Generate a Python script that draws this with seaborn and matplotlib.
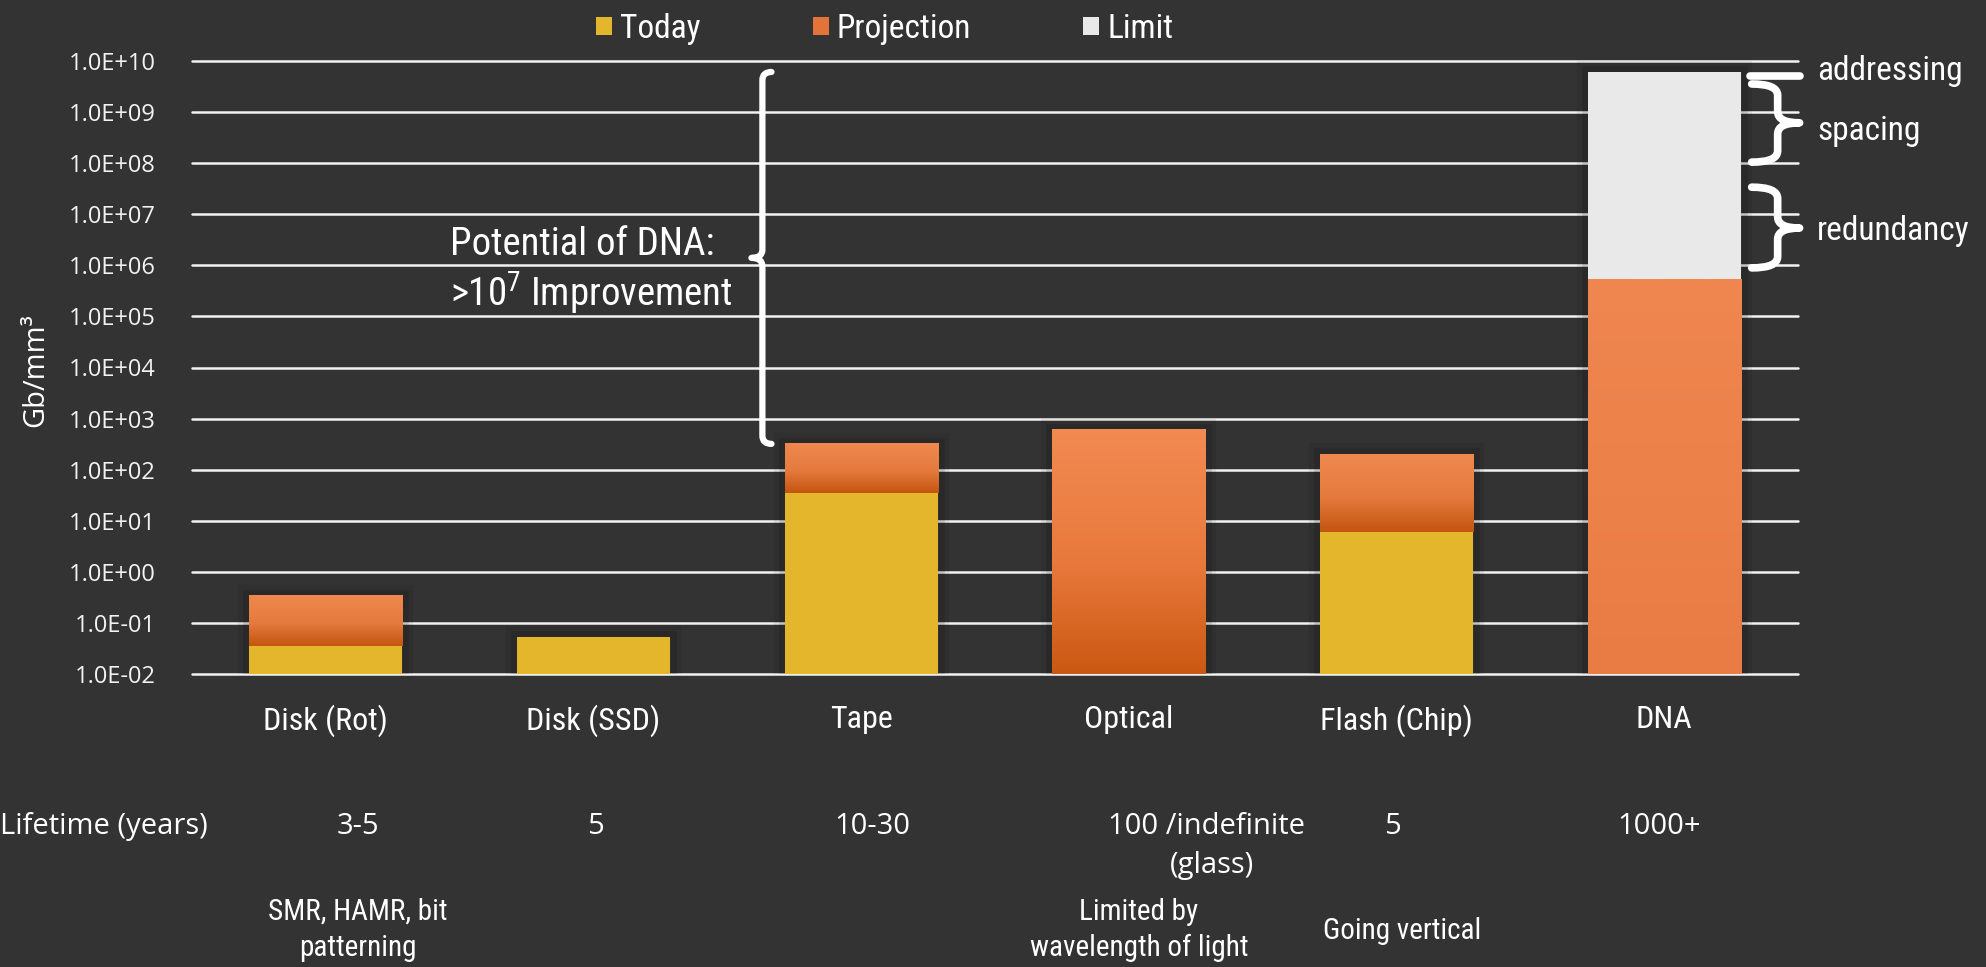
import numpy as np
import pandas as pd
import matplotlib
matplotlib.use("Agg")
import matplotlib.pyplot as plt
import seaborn as sns
from matplotlib import font_manager as fm
from matplotlib.path import Path
from matplotlib.patches import PathPatch, Patch
from matplotlib.colors import LinearSegmentedColormap
from matplotlib.ticker import FixedLocator, FixedFormatter, NullLocator
import matplotlib.patheffects as pe

# ---------------- data ----------------
categories = ["Disk (Rot)", "Disk (SSD)", "Tape", "Optical", "Flash (Chip)", "DNA"]
today = [0.035, 0.052, 35.0, np.nan, 6.0, np.nan]
projection = [0.34, np.nan, 320.0, 600.0, 200.0, 5.4e5]
limit = [np.nan, np.nan, np.nan, np.nan, np.nan, 6.1e9]
series_names = ["Today", "Projection", "Limit"]
y_tick_values = [1e-2, 1e-1, 1e0, 1e1, 1e2, 1e3, 1e4, 1e5, 1e6, 1e7, 1e8, 1e9, 1e10]
y_tick_labels = ["1.0E-02", "1.0E-01", "1.0E+00", "1.0E+01", "1.0E+02", "1.0E+03",
                 "1.0E+04", "1.0E+05", "1.0E+06", "1.0E+07", "1.0E+08", "1.0E+09", "1.0E+10"]
lifetime_labels = ["3-5", "5", "10-30", "100 /indefinite", "5", "1000+"]

# ---------------- style ----------------
W, H = 1986, 967
BG = "#333333"
TODAY_C = "#E4B62B"
LIMIT_C = "#E9E9E9"
PROJ_LEGEND = "#E2743A"
grad_top = ["#F0894F", "#F0894F", "#F0894F", "#F28A52", "#F0894F", "#F08650"]
grad_mid = ["#E47A3E", "#E47A3E", "#E47A3E", "#E8793C", "#E47A3E", "#EC8149"]
grad_bot = ["#C45510", "#C45510", "#C45510", "#CB5812", "#C45510", "#E87C44"]
BAR_W = 0.572

sns.set_theme(style="white")
avail = {f.name for f in fm.fontManager.ttflist}
def pick(*names):
    for n in names:
        if n in avail:
            return n
    return "DejaVu Sans"
COND = pick("Liberation Sans Narrow", "Roboto Condensed", "Open Sans Condensed", "Roboto", "Liberation Sans")
REG = pick("Open Sans", "Lato", "Liberation Sans", "DejaVu Sans")
plt.rcParams["font.family"] = [COND, "DejaVu Sans"]
plt.rcParams["mathtext.fontset"] = "custom"
plt.rcParams["mathtext.rm"] = COND
plt.rcParams["mathtext.it"] = COND
plt.rcParams["mathtext.bf"] = COND

fig = plt.figure(figsize=(W / 100, H / 100), dpi=100, facecolor=BG)
ax = fig.add_axes([192 / W, 1 - 674 / H, (1798 - 192) / W, (674 - 61) / H])
ax.set_facecolor(BG)
ax.set_yscale("log")

df = pd.DataFrame({"category": categories, "today": today,
                   "projection": projection, "limit": limit})

n0 = len(ax.patches)
sns.barplot(data=df, x="category", y="limit", order=categories, color=LIMIT_C,
            width=BAR_W, saturation=1, errorbar=None, linewidth=0, ax=ax, zorder=2)
lim_patches = ax.patches[n0:]
n1 = len(ax.patches)
sns.barplot(data=df, x="category", y="projection", order=categories, color=grad_top[0],
            width=BAR_W, saturation=1, errorbar=None, linewidth=0, ax=ax, zorder=3)
proj_patches = ax.patches[n1:]
n2 = len(ax.patches)
sns.barplot(data=df, x="category", y="today", order=categories, color=TODAY_C,
            width=BAR_W, saturation=1, errorbar=None, linewidth=0, ax=ax, zorder=5)
today_patches = ax.patches[n2:]

YMIN, YMAX = y_tick_values[0], y_tick_values[-1]
XMIN, XMAX = -0.5, len(categories) - 0.5

def idx_of(p):
    return int(round(p.get_x() + p.get_width() / 2))

def fy(v):
    return (np.log10(v) - np.log10(YMIN)) / (np.log10(YMAX) - np.log10(YMIN))

def fx(v):
    return (v - XMIN) / (XMAX - XMIN)

shadow = [pe.Stroke(linewidth=16, foreground="black", alpha=0.07),
          pe.Stroke(linewidth=9, foreground="black", alpha=0.12),
          pe.Normal()]

for p in lim_patches:
    if np.isfinite(p.get_height()) and p.get_height() > 0:
        p.set_path_effects(shadow)

for p in proj_patches:
    h = p.get_height()
    if not np.isfinite(h) or h <= 0:
        continue
    i = idx_of(p)
    if np.isnan(limit[i]):
        p.set_path_effects(shadow)
    bottom = today[i] if np.isfinite(today[i]) else YMIN
    cmap = LinearSegmentedColormap.from_list(
        "g%d" % i, [(0, grad_bot[i]), (0.45, grad_mid[i]), (1, grad_top[i])])
    grad = np.linspace(0, 1, 256).reshape(-1, 1)
    ax.imshow(grad, extent=(fx(p.get_x()), fx(p.get_x() + p.get_width()), fy(bottom), fy(h)),
              transform=ax.transAxes, origin="lower", aspect="auto", cmap=cmap,
              zorder=4, interpolation="bilinear")

for p in today_patches:
    h = p.get_height()
    if not np.isfinite(h) or h <= 0:
        continue
    i = idx_of(p)
    if np.isnan(projection[i]):
        p.set_path_effects(shadow)

ax.set_xlim(XMIN, XMAX)
ax.set_ylim(YMIN, YMAX)
ax.yaxis.set_major_locator(FixedLocator(y_tick_values))
ax.yaxis.set_major_formatter(FixedFormatter(y_tick_labels))
ax.yaxis.set_minor_locator(NullLocator())
ax.set_aspect("auto")

ax.yaxis.grid(True, color="#F2F2F2", linewidth=1.8)
ax.xaxis.grid(False)
ax.set_axisbelow(True)
for gl in ax.get_ygridlines():
    gl.set_clip_on(False)
for s in ax.spines.values():
    s.set_visible(False)

ax.tick_params(axis="both", length=0)
ax.tick_params(axis="y", pad=26, labelcolor="#F2F2F2")
ax.tick_params(axis="x", pad=22, labelcolor="white")
for t in ax.get_yticklabels():
    t.set_fontfamily(REG)
    t.set_fontsize(17)
ax.set_xticks(range(len(categories)))
ax.set_xticklabels(categories, fontsize=23, family=COND, color="white")
ax.set_xlabel("")
ax.set_ylabel("")

fig.text(36 / W, 1 - 370 / H, "Gb/mm³", rotation=90, ha="center", va="center",
         color="white", fontsize=21, family=REG)

# ---------------- legend ----------------
handles = [Patch(facecolor=TODAY_C, edgecolor="none"),
           Patch(facecolor=PROJ_LEGEND, edgecolor="none"),
           Patch(facecolor=LIMIT_C, edgecolor="none")]
fig.legend(handles, series_names, loc="center left",
           bbox_to_anchor=(596 / W, 1 - 29 / H), ncol=3, frameon=False,
           prop={"family": COND, "size": 24}, labelcolor="white",
           handlelength=0.48, handleheight=0.48, handletextpad=0.25,
           columnspacing=3.35, borderpad=0, borderaxespad=0)

# ---------------- annotations ----------------
def ftxt(s, x_px, y_px, ha="center", va="baseline", family=None, size=20):
    fig.text(x_px / W, 1 - y_px / H, s, ha=ha, va=va, color="white",
             family=family or COND, fontsize=size)

ftxt("Potential of DNA:", 450, 255, ha="left", size=28)
ftxt(r">$10^{7}$ Improvement", 450, 307, ha="left", size=28)

def brace(x_spine, x_hook, x_tip, top, bot, tip, r, lw):
    Y = lambda v: 10 ** v
    verts = [(x_hook, Y(top)), (x_spine, Y(top)), (x_spine, Y(top - r)),
             (x_spine, Y(tip + r)), (x_spine, Y(tip)), (x_tip, Y(tip)),
             (x_spine, Y(tip)), (x_spine, Y(tip - r)),
             (x_spine, Y(bot + r)), (x_spine, Y(bot)), (x_hook, Y(bot))]
    codes = [Path.MOVETO, Path.CURVE3, Path.CURVE3, Path.LINETO, Path.CURVE3, Path.CURVE3,
             Path.CURVE3, Path.CURVE3, Path.LINETO, Path.CURVE3, Path.CURVE3]
    ax.add_patch(PathPatch(Path(verts, codes), fill=False, edgecolor="white", lw=lw,
                           capstyle="round", joinstyle="round", clip_on=False, zorder=7))

big_top = np.log10(limit[5])
big_bot = np.log10(projection[2])
brace(1.631, 1.665, 1.590, big_top, big_bot, (big_top + big_bot) / 2, 0.16, 4.5)
brace(5.424, 5.327, 5.506, 9.55, 8.02, 8.79, 0.22, 5.5)
brace(5.424, 5.327, 5.506, 7.53, 5.95, 6.73, 0.22, 5.5)
ax.plot([5.32, 5.506], [10 ** 9.71, 10 ** 9.71], color="white", lw=5.5,
        solid_capstyle="round", clip_on=False, zorder=7)

ftxt("addressing", 1817, 80, ha="left", size=24)
ftxt("spacing", 1817, 140, ha="left", size=24)
ftxt("redundancy", 1817, 240, ha="left", size=24)

# lifetime row
ftxt("Lifetime (years)", 0, 834, ha="left", family=REG, size=21)
life_x = [358, 595, 872, None, 1392, 1659]
for lab, x in zip(lifetime_labels, life_x):
    if x is None:
        continue
    ftxt(lab, x, 834, family=REG, size=21)
ftxt(lifetime_labels[3], 1108, 834, ha="left", family=REG, size=21)
ftxt("(glass)", 1170, 873, ha="left", family=REG, size=21)

# notes
ftxt("SMR, HAMR, bit", 358, 920, size=21)
ftxt("patterning", 358, 956, size=21)
ftxt("Limited by", 1139, 920, size=21)
ftxt("wavelength of light", 1139, 956, size=21)
ftxt("Going vertical", 1402, 939, size=21)

fig.savefig("out.png", dpi=100, facecolor=BG)
